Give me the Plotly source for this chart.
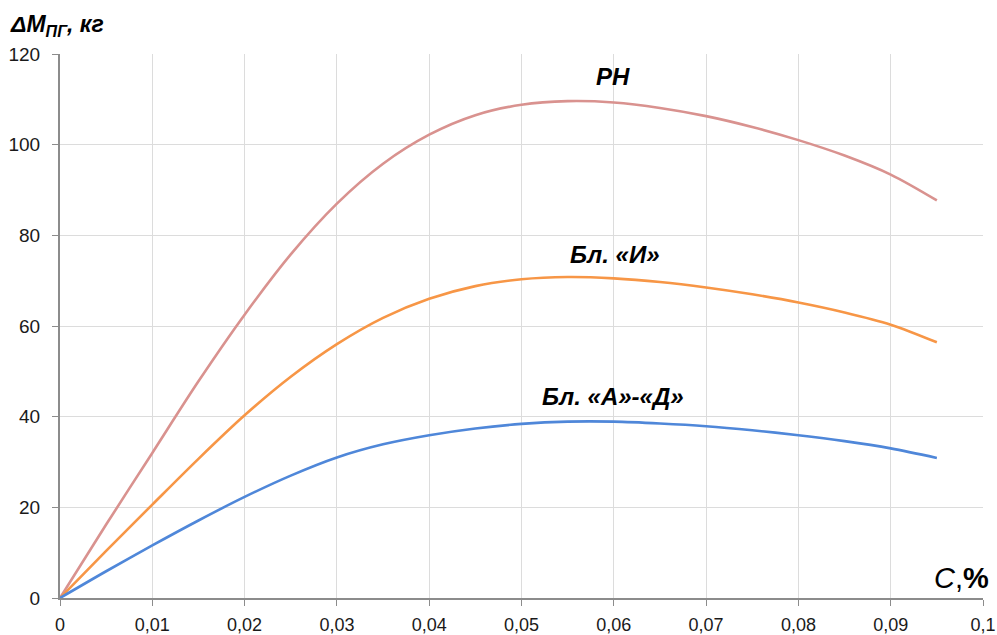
import plotly.graph_objects as go

c_pct = [0, 0.005, 0.01, 0.015, 0.02, 0.025, 0.03, 0.035, 0.04, 0.045, 0.05,
         0.055, 0.06, 0.065, 0.07, 0.075, 0.08, 0.085, 0.09, 0.095]
rn = [0, 16.2, 32.0, 47.8, 62.5, 75.8, 87.0, 95.8, 102.2, 106.5, 108.8,
      109.6, 109.3, 108.1, 106.3, 103.9, 101.0, 97.6, 93.4, 87.7]
bl_i = [0, 10.4, 20.6, 30.7, 40.3, 48.8, 56.0, 61.8, 66.0, 68.8, 70.3,
        70.8, 70.5, 69.7, 68.5, 67.0, 65.2, 63.0, 60.3, 56.4]
bl_ad = [0, 5.9, 11.6, 17.1, 22.3, 27.0, 31.0, 33.9, 35.9, 37.4, 38.4,
         38.9, 38.9, 38.5, 37.9, 37.0, 35.9, 34.6, 33.0, 30.9]

series_names = ["РН", "Бл. «И»", "Бл. «А»-«Д»"]
series_values = [rn, bl_i, bl_ad]
colors = ["#D9928F", "#F79646", "#4F87D9"]
label_pos = [(0.0599, 115.0), (0.0601, 75.8), (0.0599, 44.5)]

W, H = 997, 635
ML, MR, MT, MB = 60, 14, 54, 37
PW, PH = W - ML - MR, H - MT - MB


def px_x(px):
    return (px - ML) / PW


def px_y(py):
    return (H - MB - py) / PH


fig = go.Figure()
for name, vals, col in zip(series_names, series_values, colors):
    fig.add_trace(go.Scatter(x=c_pct, y=vals, mode="lines", name=name,
                             line=dict(color=col, width=2.6, shape="spline", smoothing=0.9)))

for name, (lx, ly) in zip(series_names, label_pos):
    fig.add_annotation(x=lx, y=ly, xref="x", yref="y", text="<b><i>" + name + "</i></b>",
                       showarrow=False, font=dict(family="Liberation Sans, Arial", size=24, color="#000"),
                       xanchor="center", yanchor="middle")

fig.add_annotation(x=px_x(8), y=px_y(26), xref="paper", yref="paper",
                   text="<b><i>ΔM<sub>ПГ</sub>, кг</i></b>", showarrow=False,
                   font=dict(family="Liberation Sans, Arial", size=23, color="#000"),
                   xanchor="left", yanchor="middle")

fig.add_annotation(x=px_x(991), y=px_y(578), xref="paper", yref="paper",
                   text="<i>С</i>,<b>%</b>", showarrow=False,
                   font=dict(family="Liberation Sans, Arial", size=29, color="#000"),
                   xanchor="right", yanchor="middle")

axis_font = dict(family="Liberation Sans, Arial", size=18, color="#1a1a1a")

fig.update_layout(
    width=W, height=H,
    margin=dict(l=ML, r=MR, t=MT, b=MB),
    paper_bgcolor="white", plot_bgcolor="white",
    showlegend=False,
    separators=", ",
    xaxis=dict(range=[0, 0.1], dtick=0.01, tick0=0, showgrid=True, gridcolor="#DCDCDC", gridwidth=1,
               showline=True, linecolor="#8C8C8C", linewidth=2, ticks="outside", ticklen=6,
               tickcolor="#8C8C8C", tickfont=axis_font, zeroline=False, ticklabelstandoff=3,
               automargin=False),
    yaxis=dict(range=[0, 120], dtick=20, showgrid=True, gridcolor="#DCDCDC", gridwidth=1,
               showline=True, linecolor="#8C8C8C", linewidth=2, ticks="outside", ticklen=6,
               tickcolor="#8C8C8C", tickfont=dict(family="Liberation Sans, Arial", size=19, color="#1a1a1a"),
               zeroline=False, ticklabelstandoff=8, automargin=False),
)

fig.write_html("out.html")
